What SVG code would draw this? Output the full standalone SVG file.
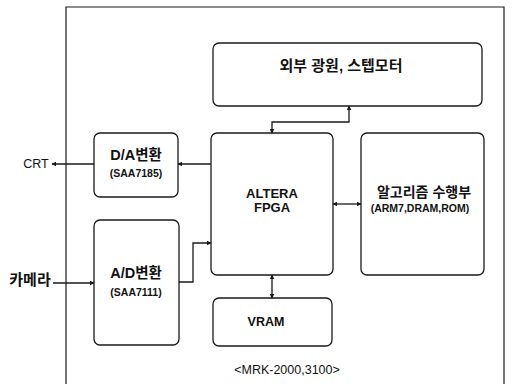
<svg xmlns="http://www.w3.org/2000/svg" width="514" height="384" viewBox="0 0 514 384">
<defs>
<style>
.box{fill:#fff;stroke:#1a1a1a;stroke-width:1.3}
.frame{fill:none;stroke:#1a1a1a;stroke-width:1.2}
.ln{fill:none;stroke:#1a1a1a;stroke-width:1.3}
.t{font-family:"Liberation Sans","Noto Sans CJK KR",sans-serif;fill:#111;text-anchor:middle}
.b{font-weight:bold}
.s{font-size:10.5px;font-weight:bold}
</style>
<marker id="ah" viewBox="0 0 8 8" refX="7" refY="4" markerWidth="5" markerHeight="5" orient="auto-start-reverse" markerUnits="userSpaceOnUse">
<path d="M0,0 L8,4 L0,8 z" fill="#1a1a1a"/>
</marker>
</defs>
<rect width="514" height="384" fill="#fff"/>
<path class="frame" d="M66,384 V7 H504 V384"/>
<g id="ext">
<rect class="box" x="213" y="43" width="269" height="63" rx="6"/>
<text class="t b" x="341" y="71" font-size="15">외부 광원, 스텝모터</text>
</g>
<g id="da">
<rect class="box" x="94" y="133" width="84" height="64" rx="6"/>
<text class="t b" x="136" y="160" font-size="14.5">D/A변환</text>
<text class="t s" x="136" y="177">(SAA7185)</text>
</g>
<g id="fpga">
<rect class="box" x="211" y="133" width="122" height="142" rx="6"/>
<text class="t b" x="272" y="198" font-size="13">ALTERA</text>
<text class="t b" x="272" y="212" font-size="13">FPGA</text>
</g>
<g id="algo">
<rect class="box" x="361" y="133" width="123" height="142" rx="6"/>
<text class="t b" x="424" y="197" font-size="14">알고리즘 수행부</text>
<text class="t s" x="420" y="212" font-size="10">(ARM7,DRAM,ROM)</text>
</g>
<g id="ad">
<rect class="box" x="94" y="220" width="85" height="125" rx="6"/>
<text class="t b" x="136" y="278" font-size="14.5">A/D변환</text>
<text class="t s" x="136" y="296">(SAA7111)</text>
</g>
<g id="vram">
<rect class="box" x="213" y="298" width="119" height="48" rx="6"/>
<text class="t b" x="266" y="326" font-size="12.5">VRAM</text>
</g>
<g id="crt">
<text class="t" x="36" y="168" font-size="12.5">CRT</text>
</g>
<g id="camera">
<text class="t b" x="30" y="285" font-size="15">카메라</text>
</g>
<g id="caption">
<text class="t" x="287" y="374" font-size="12.5">&lt;MRK-2000,3100&gt;</text>
</g>
<g id="connectors">
<path class="ln" d="M349,106 V122 H272 V133" marker-start="url(#ah)" marker-end="url(#ah)"/>
<path class="ln" d="M211,164 H178" marker-end="url(#ah)"/>
<path class="ln" d="M94,164 H52" marker-end="url(#ah)"/>
<path class="ln" d="M333,204 H361" marker-start="url(#ah)" marker-end="url(#ah)"/>
<path class="ln" d="M53,283 H94" marker-end="url(#ah)"/>
<path class="ln" d="M179,282 H193 V243 H211" marker-end="url(#ah)"/>
<path class="ln" d="M272,275 V298" marker-start="url(#ah)" marker-end="url(#ah)"/>
</g>
</svg>
